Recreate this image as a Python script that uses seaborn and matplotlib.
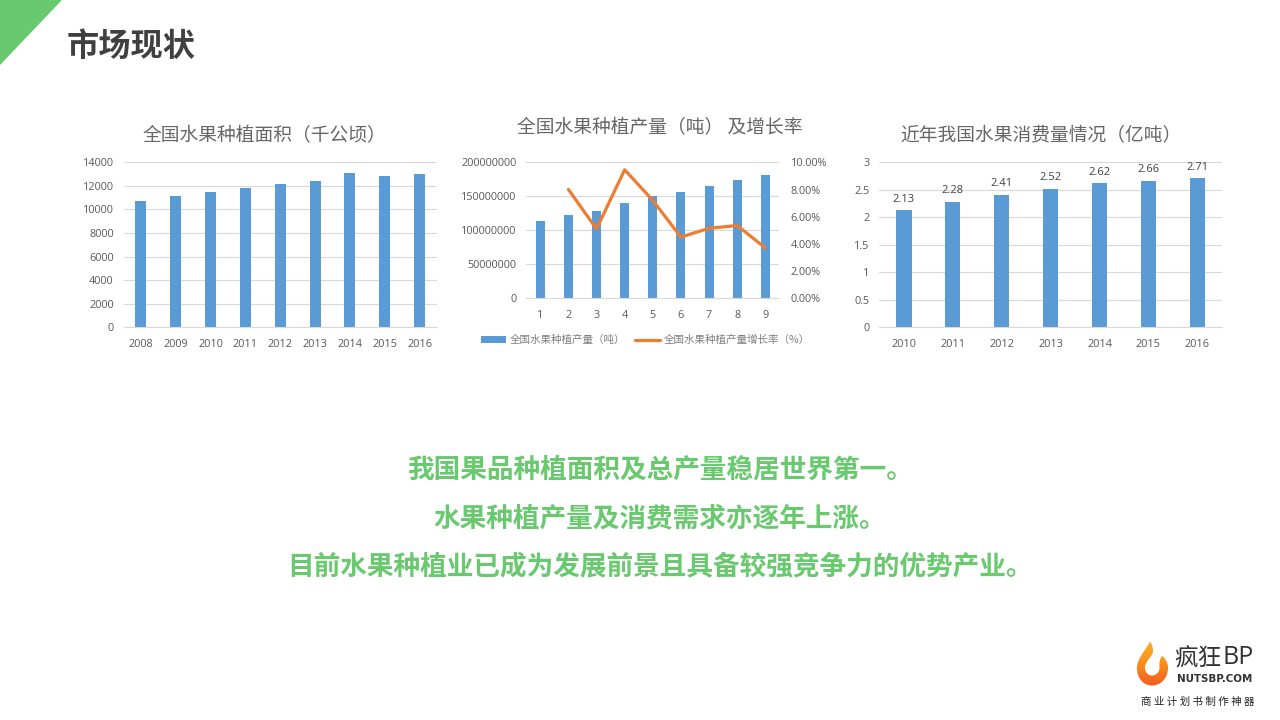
import numpy as np
import matplotlib
matplotlib.use("Agg")
import matplotlib.pyplot as plt
from matplotlib.patches import Polygon, PathPatch, Rectangle
from matplotlib.path import Path
from matplotlib.lines import Line2D
from matplotlib.colors import LinearSegmentedColormap
import seaborn as sns

sns.set_theme(style="white")
plt.rcParams['font.family'] = ['Open Sans', 'Noto Sans CJK SC', 'DejaVu Sans']
CJK = ['Noto Sans CJK SC', 'DejaVu Sans']

# ---- data ----
area_years = ['2008', '2009', '2010', '2011', '2012', '2013', '2014', '2015', '2016']
area_values = [10716, 11140, 11510, 11820, 12130, 12385, 13117, 12810, 12980]
area_ticks = [0, 2000, 4000, 6000, 8000, 10000, 12000, 14000]

output_index = ['1', '2', '3', '4', '5', '6', '7', '8', '9']
output_values = [113000000, 122000000, 128000000, 140500000, 150500000,
                 157000000, 165000000, 174000000, 181000000]
output_growth = [np.nan, 8.0, 5.1, 9.45, 7.2, 4.5, 5.15, 5.35, 3.7]
output_ticks = [0, 50000000, 100000000, 150000000, 200000000]
growth_ticks = [0, 2, 4, 6, 8, 10]

cons_years = ['2010', '2011', '2012', '2013', '2014', '2015', '2016']
cons_values = [2.13, 2.28, 2.41, 2.52, 2.62, 2.66, 2.71]
cons_ticks = [0, 0.5, 1, 1.5, 2, 2.5, 3]
cons_tick_labels = ['0', '0.5', '1', '1.5', '2', '2.5', '3']

title_main = '市场现状'
title_area = '全国水果种植面积（千公顷）'
title_output = '全国水果种植产量（吨） 及增长率'
title_cons = '近年我国水果消费量情况（亿吨）'
legend_bar = '全国水果种植产量（吨）'
legend_line = '全国水果种植产量增长率（%）'
summary = ['我国果品种植面积及总产量稳居世界第一。',
           '水果种植产量及消费需求亦逐年上涨。',
           '目前水果种植业已成为发展前景且具备较强竞争力的优势产业。']

BAR = '#5B9BD5'
LINE = '#ED7D31'
GRID = '#D9D9D9'
TICK = '#595959'
TITLE = '#666666'
GREEN = '#68C96F'
W, H = 1280, 720

fig = plt.figure(figsize=(12.8, 7.2), dpi=100, facecolor='white')


def make_ax(x0, x1, ytop, ybot):
    return fig.add_axes([x0 / W, 1 - ybot / H, (x1 - x0) / W, (ybot - ytop) / H])


def ftext(x, y, s, **kw):
    kw.setdefault('ha', 'center')
    kw.setdefault('va', 'center')
    kw.setdefault('family', CJK)
    return fig.text(x / W, 1 - y / H, s, **kw)


def style(ax, yticks, ymax, labels=None):
    ax.set_ylim(0, ymax)
    ax.set_yticks(yticks)
    if labels is not None:
        ax.set_yticklabels(labels)
    ax.set_xlabel('')
    ax.set_ylabel('')
    ax.set_axisbelow(True)
    ax.grid(axis='y', color=GRID, lw=0.8)
    ax.grid(axis='x', visible=False)
    for side in ['top', 'left', 'right']:
        ax.spines[side].set_visible(False)
    ax.spines['bottom'].set_color(GRID)
    ax.spines['bottom'].set_linewidth(0.8)
    ax.tick_params(axis='x', length=0, labelsize=7.8, labelcolor=TICK, pad=8.7)
    ax.tick_params(axis='y', length=0, labelsize=7.8, labelcolor=TICK, pad=7)
    ax.patch.set_alpha(0)


BAR_KW = dict(color=BAR, saturation=1, linewidth=0, edgecolor='none')

# chart 1
ax1 = make_ax(123.5, 437, 162.3, 327.3)
sns.barplot(x=area_years, y=area_values, ax=ax1, width=0.316, **BAR_KW)
style(ax1, area_ticks, 14000)

# chart 2
ax2 = make_ax(526.2, 779.4, 162.3, 298.3)
sns.barplot(x=output_index, y=output_values, ax=ax2, width=0.32, **BAR_KW)
style(ax2, output_ticks, 200000000, [str(t) for t in output_ticks])
ax2b = ax2.twinx()
sns.lineplot(x=list(range(len(output_growth))), y=output_growth, ax=ax2b,
             color=LINE, lw=2.3, errorbar=None, sort=False)
ax2b.lines[0].set_solid_joinstyle('round')
ax2b.set_ylim(0, 10)
ax2b.set_xlim(-0.5, len(output_index) - 0.5)
ax2b.set_yticks(growth_ticks)
ax2b.set_yticklabels([f'{t:.2f}%' for t in growth_ticks])
ax2b.tick_params(axis='y', length=0, labelsize=7.8, labelcolor=TICK, pad=8)
ax2b.grid(False)
ax2b.set_ylabel('')
for s in ax2b.spines.values():
    s.set_visible(False)
handles = [Rectangle((0, 0), 1, 1, color=BAR, lw=0), Line2D([0], [0], color=LINE, lw=2.3)]
leg = fig.legend(handles, [legend_bar, legend_line], ncols=2, frameon=False,
                 loc='center', bbox_to_anchor=(645.5 / W, 1 - 340 / H),
                 prop={'family': CJK, 'size': 7.6}, handlelength=2.4,
                 handleheight=0.55, handletextpad=0.35, columnspacing=0.9,
                 labelcolor='#7F7F7F')

# chart 3
ax3 = make_ax(879.4, 1221.8, 162.3, 327.3)
sns.barplot(x=cons_years, y=cons_values, ax=ax3, width=0.316, **BAR_KW)
style(ax3, cons_ticks, 3, cons_tick_labels)
ax3.bar_label(ax3.containers[0], fmt='%.2f', padding=4, fontsize=8, color='#404040')

# titles
ftext(264, 135.5, title_area, fontsize=13.5, color=TITLE)
ftext(660, 127.5, title_output, fontsize=13.5, color=TITLE)
ftext(1041, 135.5, title_cons, fontsize=13.5, color=TITLE)

# page furniture
fig.add_artist(Polygon([(0, 1), (62 / W, 1), (0, 1 - 65 / H)], closed=True,
                       transform=fig.transFigure, color='#68C96F', lw=0))
ftext(131, 46, title_main, fontsize=23.2, fontweight='bold', color='#404040')
for y, line in zip([470.5, 518.5, 566.5], summary):
    ftext(660, y, line, fontsize=19.2, fontweight='bold', color=GREEN)

# logo
lax = fig.add_axes([1130 / W, 1 - 692 / H, 45 / W, 55 / H])
lax.set_xlim(1130, 1175)
lax.set_ylim(692, 637)
lax.axis('off')
cmap = LinearSegmentedColormap.from_list('flame', ['#FDB01C', '#FA8F1B', '#F15A22'])
im = lax.imshow(np.linspace(0, 1, 64).reshape(-1, 1), cmap=cmap, aspect='auto',
                extent=(1130, 1175, 687, 640))
verts = [(1150, 641.5),
         (1146, 650), (1137, 658), (1137, 668),
         (1137, 678), (1143, 685.5), (1152, 685.5),
         (1161, 685.5), (1168, 678), (1168, 668),
         (1168, 662), (1165, 658), (1162, 656),
         (1160, 659), (1159, 662), (1159.5, 667),
         (1160, 672), (1156, 675.5), (1152, 675.5),
         (1148, 675.5), (1145, 672), (1145, 668),
         (1145, 660), (1154, 656), (1153, 650),
         (1152.7, 647), (1152, 644), (1150, 641.5),
         (1150, 641.5)]
codes = [Path.MOVETO] + [Path.CURVE4] * (len(verts) - 2) + [Path.CLOSEPOLY]
clip = PathPatch(Path(verts, codes), transform=lax.transData, fc='none', ec='none')
lax.add_patch(clip)
im.set_clip_path(clip)
ftext(1198, 659, '疯狂', fontsize=17, color='#333333')
ftext(1238.5, 658, 'BP', fontsize=18, color='#333333', family=['Open Sans'])
ftext(1215, 679, 'NUTSBP.COM', fontsize=7.4, fontweight='bold', color='#333333',
      family=['DejaVu Sans'])
ftext(1198, 702, '商 业 计 划 书 制 作 神 器', fontsize=7.6, color='#222222')

fig.savefig('out.png', dpi=100, facecolor='white')
